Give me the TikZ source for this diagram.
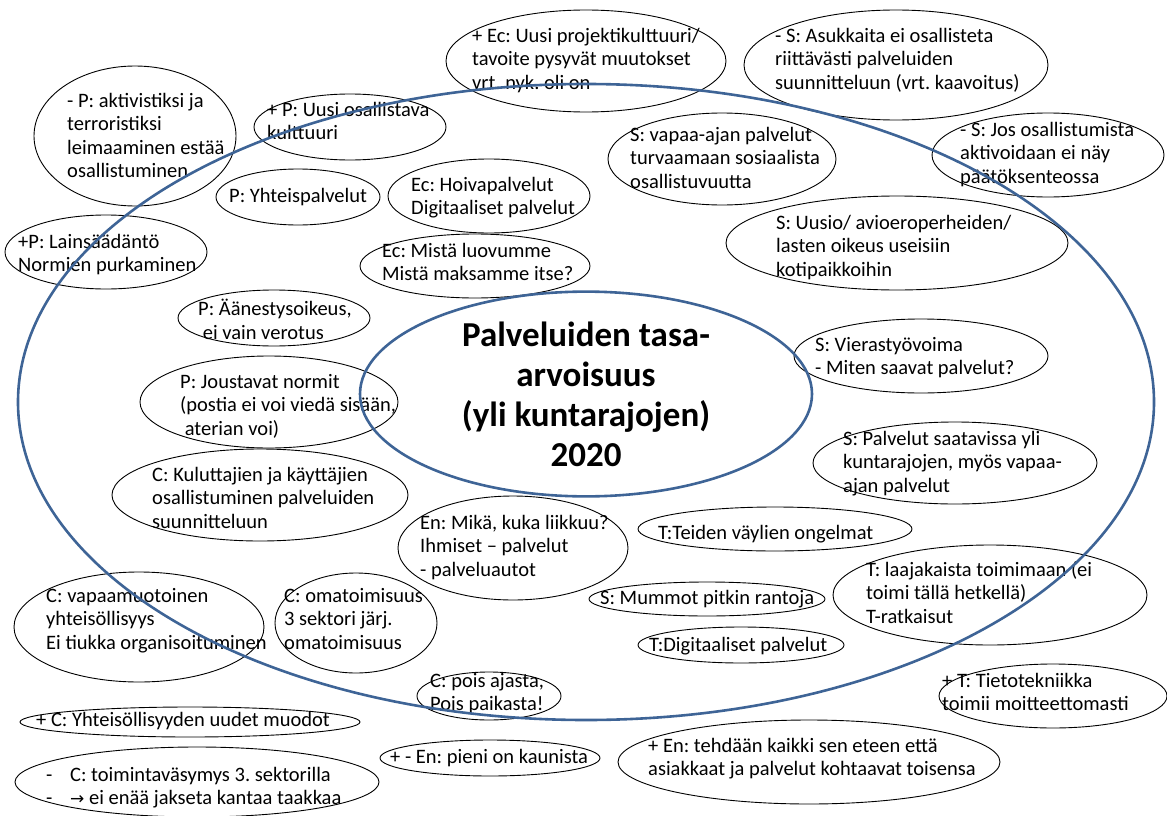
\documentclass[tikz,border=0pt]{standalone}
\usepackage{fontspec}
\setmainfont{Carlito}
\newfontfamily\djv{DejaVu Sans}
\newcommand{\bodyfont}{\fontsize{20.5}{23.5}\selectfont}
\newcommand{\titlefont}{\fontsize{35}{40}\selectfont\bfseries}
\definecolor{ringblue}{RGB}{62,100,150}
\tikzset{
  ell/.style={draw=black, line width=0.9pt, ellipse, inner sep=0pt},
  txt/.style={anchor=north west, inner sep=0pt, align=left, font=\bodyfont,
              execute at begin node=\strut, yshift=10pt},
  ring/.style={draw=ringblue, line width=2.6pt, ellipse, inner sep=0pt}
}
\usetikzlibrary{shapes.geometric}
\frenchspacing
\begin{document}
\begin{tikzpicture}[x=1pt,y=-1pt]
\useasboundingbox (0,0) rectangle (1167,816);
% ellipses (center, width, height)
\newcommand{\ellnode}[5]{\node[ell, minimum width=#4pt, minimum height=#5pt] (#1) at (#2,#3) {};}
\ellnode{e1}{135}{136}{202}{140}
\ellnode{e2}{350}{127}{192}{66}
\ellnode{e3}{298}{197}{164}{56}
\ellnode{e4}{489}{196}{202}{74}
\ellnode{e5}{475}{266}{230}{64}
\ellnode{e6}{106}{252}{202}{74}
\ellnode{e7}{586}{61}{280}{102}
\ellnode{e8}{896}{65}{304}{110}
\ellnode{e9}{722}{159}{228}{92}
\ellnode{e10}{1048}{155}{232}{84}
\ellnode{e11}{897}{243}{342}{94}
\ellnode{e12}{274}{318}{192}{56}
\ellnode{e13}{269}{402}{258}{92}
\ellnode{e14}{260}{495}{296}{92}
\ellnode{e15}{513}{548}{230}{104}
\ellnode{e16}{921}{356}{254}{74}
\ellnode{e17}{955}{463}{284}{82}
\ellnode{e18}{775}{529}{274}{44}
\ellnode{e19}{139}{627}{250}{110}
\ellnode{e20}{356}{623}{162}{100}
\ellnode{e21}{489}{696}{144}{48}
\ellnode{e22}{190}{722}{340}{30}
\ellnode{e23}{197}{782}{364}{70}
\ellnode{e24}{490}{758}{220}{36}
\ellnode{e25}{990}{595}{314}{100}
\ellnode{e26}{707}{599}{236}{34}
\ellnode{e27}{741}{645}{206}{36}
\ellnode{e28}{1053}{696}{228}{64}
\ellnode{e29}{809}{762}{382}{84}
% texts
\node[txt] (t1) at (67,103) {- P: aktivistiksi ja\\terroristiksi\\leimaaminen estää\\osallistuminen};
\node[txt] (t2) at (267,112) {+ P: Uusi osallistava\\kulttuuri};
\node[txt] (t3) at (229,196) {P: Yhteispalvelut};
\node[txt] (t4) at (411,187) {Ec: Hoivapalvelut\\Digitaaliset palvelut};
\node[txt] (t5) at (382,253) {Ec: Mistä luovumme\\Mistä maksamme itse?};
\node[txt] (t6) at (18,244) {+P: Lainsäädäntö\\Normien purkaminen};
\node[txt] (t7) at (472,38) {+ Ec: Uusi projektikulttuuri/\\tavoite pysyvät muutokset\\vrt. nyk. oli on};
\node[txt] (t8) at (775,38) {- S: Asukkaita ei osallisteta\\riittävästi palveluiden\\suunnitteluun (vrt. kaavoitus)};
\node[txt] (t9) at (630,137) {S: vapaa-ajan palvelut\\turvaamaan sosiaalista\\osallistuvuutta};
\node[txt] (t10) at (960,132) {- S: Jos osallistumista\\aktivoidaan ei näy\\päätöksenteossa};
\node[txt] (t11) at (776,225) {S: Uusio/ avioeroperheiden/\\lasten oikeus useisiin\\kotipaikkoihin};
\node[txt] (t12) at (198,309) {P: Äänestysoikeus,\\\ ei vain verotus};
\node[txt] (t13) at (180,384) {P: Joustavat normit\\(postia ei voi viedä sisään,\\\ aterian voi)};
\node[txt] (t14) at (152,477) {C: Kuluttajien ja käyttäjien\\osallistuminen palveluiden\\suunnitteluun};
\node[txt] (t15) at (420,525) {En: Mikä, kuka liikkuu?\\Ihmiset – palvelut\\- palveluautot};
\node[txt] (t16) at (815,347) {S: Vierastyövoima\\- Miten saavat palvelut?};
\node[txt] (t17) at (843,441) {S: Palvelut saatavissa yli\\kuntarajojen, myös vapaa-\\ajan palvelut};
\node[txt] (t18) at (658,533) {T:Teiden väylien ongelmat};
\node[txt] (t19) at (46,598) {C: vapaamuotoinen\\yhteisöllisyys\\Ei tiukka organisoituminen};
\node[txt] (t20) at (284,598) {C: omatoimisuus\\3 sektori järj.\\omatoimisuus};
\node[txt] (t21) at (430,683) {C: pois ajasta,\\Pois paikasta!};
\node[txt] (t22) at (36,720) {+ C: Yhteisöllisyyden uudet muodot};
\node[txt] (t23) at (46,777) {\makebox[24pt][l]{-}C: toimintaväsymys 3. sektorilla\\\makebox[24pt][l]{-}{\djv\fontsize{17}{23.5}\selectfont →} ei enää jakseta kantaa taakkaa};
\node[txt] (t24) at (390,757) {+ - En: pieni on kaunista};
\node[txt] (t25) at (866,571) {T: laajakaista toimimaan (ei\\toimi tällä hetkellä)\\T-ratkaisut};
\node[txt] (t26) at (600,598) {S: Mummot pitkin rantoja};
\node[txt] (t27) at (649,645) {T:Digitaaliset palvelut};
\node[txt] (t28) at (942,683) {+ T: Tietotekniikka\\toimii moitteettomasti};
\node[txt] (t29) at (648,748) {+ En: tehdään kaikki sen eteen että\\asiakkaat ja palvelut kohtaavat toisensa};
% blue rings
\node[ring, minimum width=1136pt, minimum height=636pt] (outer) at (586,402) {};
\node[ring, minimum width=452pt, minimum height=186pt, align=center, font=\titlefont] (center) at (586,394) {Palveluiden tasa-\\arvoisuus\\(yli kuntarajojen)\\2020};
\end{tikzpicture}
\end{document}
